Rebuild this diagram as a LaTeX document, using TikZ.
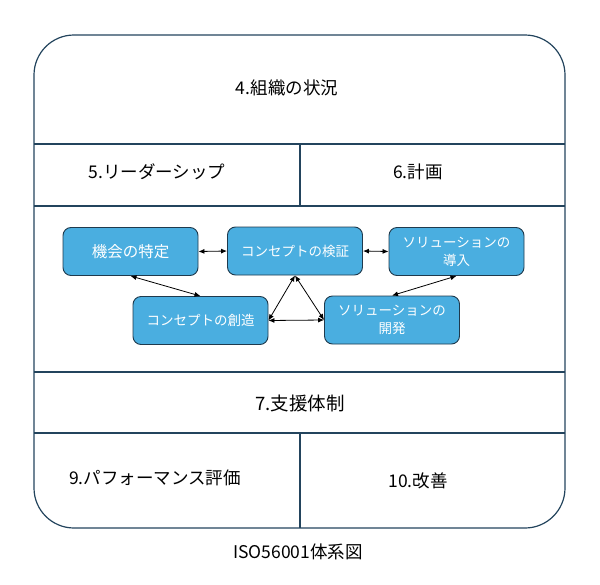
\documentclass[tikz,border=0pt]{standalone}
\usepackage{fontspec}
\setmainfont{Noto Sans CJK JP}
\usetikzlibrary{arrows.meta}
\definecolor{framec}{HTML}{23445D}
\definecolor{boxfill}{HTML}{4AAEE0}
\definecolor{boxline}{HTML}{1F3A4D}
\begin{document}
\begin{tikzpicture}[x=1pt,y=-1pt,
  frame/.style={draw=framec, line width=1.2pt},
  lbl/.style={font=\fontsize{17.5}{20}\selectfont, text=black, inner sep=0pt},
  proc/.style={draw=boxline, fill=boxfill, rounded corners=8pt, minimum width=135pt, minimum height=48pt, text=white, align=center, font=\fontsize{13.5}{18}\selectfont, line width=0.9pt, inner sep=2pt},
  biarrow/.style={{Latex[length=6pt,width=5pt]}-{Latex[length=6pt,width=5pt]}, line width=0.8pt, draw=black}]
\useasboundingbox (0,0) rectangle (600,584);
% frame
\draw[frame, rounded corners=40pt] (34,35) rectangle (565,528);
\draw[frame] (34,144) -- (565,144);
\draw[frame] (34,206) -- (565,206);
\draw[frame] (34,372) -- (565,372);
\draw[frame] (34,433) -- (565,433);
\draw[frame] (300,144) -- (300,206);
\draw[frame] (300,433) -- (300,528);
% labels
\node[lbl] (ctx) at (287,88) {4.組織の状況};
\node[lbl] (lead) at (157,172) {5.リーダーシップ};
\node[lbl] (plan) at (418,172) {6.計画};
\node[lbl, font=\fontsize{18.5}{21}\selectfont] (sup) at (300,403) {7.支援体制};
\node[lbl] (perf) at (155,478) {9.パフォーマンス評価};
\node[lbl] (impr) at (418,481) {10.改善};
\node[lbl] (cap) at (298,552) {ISO56001体系図};
% process boxes
\node[proc, font=\fontsize{15.5}{18}\selectfont] (a) at (130.5,251.5) {機会の特定};
\node[proc] (b) at (295,251) {コンセプトの検証};
\node[proc] (c) at (456.5,251.5) {ソリューションの\\導入};
\node[proc] (d) at (200.5,320.5) {コンセプトの創造};
\node[proc] (e) at (392,320) {ソリューションの\\開発};
% connectors
\draw[biarrow] (a.east) -- (b.west);
\draw[biarrow] (b.east) -- (c.west);
\draw[biarrow] (a.south) -- (d.north);
\draw[biarrow] (c.south) -- (e.north);
\draw[biarrow] (b.south) -- (d.east);
\draw[biarrow] (b.south) -- (e.west);
\draw[biarrow] (d.east) -- (e.west);
\end{tikzpicture}
\end{document}
